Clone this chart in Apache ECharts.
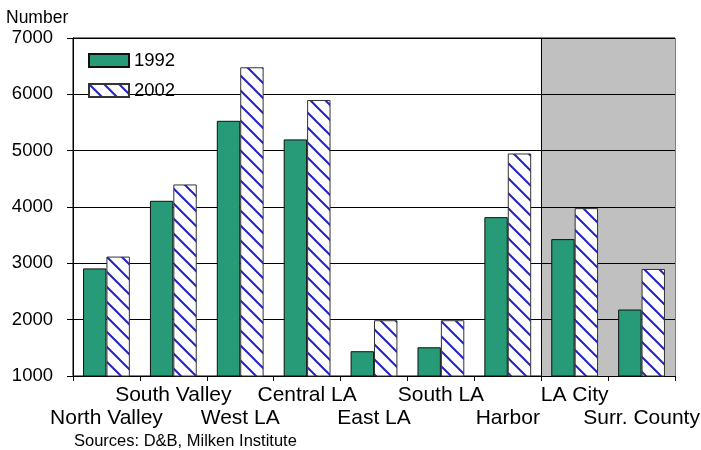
<!DOCTYPE html>
<html>
<head>
<meta charset="utf-8">
<script src="https://cdn.jsdelivr.net/npm/echarts@6/dist/echarts.min.js"></script>
<style>
  html, body { margin: 0; padding: 0; background: #fff; }
  #chart { width: 701px; height: 450px; }
</style>
</head>
<body>
<div id="chart"></div>
<script>
// Business establishments by region
const regions = ['North Valley', 'South Valley', 'West LA', 'Central LA', 'East LA', 'South LA', 'Harbor', 'LA City', 'Surr. County'];
const values1992 = [2910, 4110, 5530, 5200, 1440, 1510, 3820, 3430, 2180];
const values2002 = [3120, 4400, 6480, 5900, 1990, 1990, 4950, 3980, 2900];
const yTicks = [1000, 2000, 3000, 4000, 5000, 6000, 7000];

const FONT = "'Liberation Sans', Arial, sans-serif";

// Diagonal hatch tile for the 2002 bars
function hatchTile() {
  const s = 15;
  const c = document.createElement('canvas');
  c.width = s; c.height = s;
  const g = c.getContext('2d');
  g.fillStyle = '#ffffff';
  g.fillRect(0, 0, s, s);
  g.strokeStyle = '#2323c4';
  g.lineWidth = 2;
  g.beginPath();
  g.moveTo(-2, -2); g.lineTo(s + 2, s + 2);
  g.moveTo(-2, s - 2); g.lineTo(2, s + 2);
  g.moveTo(s - 2, -2); g.lineTo(s + 2, 2);
  g.stroke();
  return c;
}

// Shade the last two categories (LA City, Surr. County)
const shadeColors = regions.map((r, i) => i >= 7 ? '#c0c0c0' : 'rgba(0,0,0,0)');
const boundaryColors = [];
for (let i = 0; i <= regions.length; i++) boundaryColors.push(i === 7 ? '#000' : 'rgba(0,0,0,0)');

const chart = echarts.init(document.getElementById('chart'), null, { renderer: 'canvas' });
chart.setOption({
  animation: false,
  backgroundColor: '#fff',
  textStyle: { fontFamily: FONT },
  grid: {
    left: 73, right: 26, top: 38, bottom: 74,
    containLabel: false, outerBoundsMode: 'none',
    show: true, borderColor: '#000', borderWidth: 1, backgroundColor: 'transparent'
  },
  legend: {
    orient: 'vertical', left: 88, top: 51, padding: 0,
    itemWidth: 40, itemHeight: 13, itemGap: 11, icon: 'rect',
    textStyle: { fontSize: 18.5, color: '#000', fontFamily: FONT },
    data: ['1992', '2002']
  },
  xAxis: {
    type: 'category',
    z: 0,
    data: regions,
    boundaryGap: true,
    axisLine: { lineStyle: { color: '#000', width: 1 } },
    axisTick: { show: true, length: 5, lineStyle: { color: '#000' } },
    axisLabel: {
      interval: 0, margin: 8, color: '#000', fontSize: 21, fontFamily: FONT, lineHeight: 23,
      hideOverlap: false,
      formatter: (v, i) => (i % 2 === 0 ? '\n' + v : v)
    },
    splitArea: { show: true, interval: 0, areaStyle: { color: shadeColors } },
    splitLine: { show: true, interval: 0, lineStyle: { color: boundaryColors, width: 1 } }
  },
  yAxis: {
    type: 'value', z: 1,
    min: yTicks[0], max: yTicks[yTicks.length - 1], interval: 1000,
    axisLine: { show: true, lineStyle: { color: '#000' } },
    axisTick: { show: true, inside: false, length: 6, lineStyle: { color: '#000' } },
    axisLabel: { margin: 20, color: '#000', fontSize: 18.5, fontFamily: FONT, formatter: v => String(v) },
    splitLine: { show: true, lineStyle: { color: '#000', width: 1 } }
  },
  graphic: [
    { type: 'text', left: 6, top: 9, style: { text: 'Number', fontSize: 17.5, fontFamily: FONT, fill: '#000' } },
    { type: 'text', left: 74, top: 433, style: { text: 'Sources: D&B, Milken Institute', fontSize: 16.5, fontFamily: FONT, fill: '#000' } }
  ],
  series: [
    {
      name: '1992', type: 'bar', data: values1992,
      barGap: '0%', barCategoryGap: '30%',
      itemStyle: { color: '#279a78', borderColor: '#111', borderWidth: 1 }
    },
    {
      name: '2002', type: 'bar', data: values2002,
      itemStyle: { color: { image: hatchTile(), repeat: 'repeat' }, borderColor: '#333', borderWidth: 1 }
    }
  ]
});
</script>
</body>
</html>
